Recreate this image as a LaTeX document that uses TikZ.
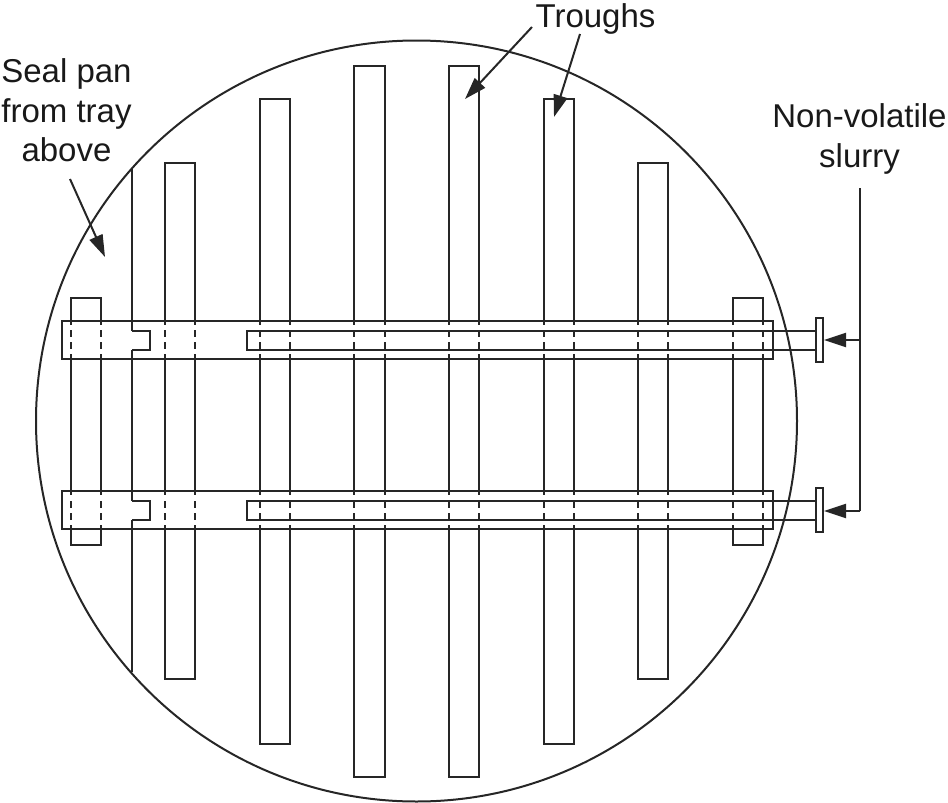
\documentclass[tikz,border=0pt]{standalone}
\usepackage{fontspec}
\setmainfont{Liberation Sans}
\usetikzlibrary{arrows.meta}
\tikzset{
  lbl/.style={font=\fontsize{33}{39.5}\selectfont, align=center, inner sep=0pt, text=black!90, anchor=base},
  ln/.style={draw=black!85, line width=2pt},
  arr/.style={ln, -{Triangle[length=22pt,width=14pt]}, shorten >=0pt},
}
\newcommand{\trough}[4]{%
  \foreach \xx in {#1,#2}{\bandline{\xx}{#3}{#4}}
  \draw[ln] (#1-1,#3) -- (#2+1,#3);
  \draw[ln] (#1-1,#4) -- (#2+1,#4);
}
\newcommand{\bandline}[3]{%
  \draw[ln] (#1,#2) -- (#1,325);
  \draw[ln] (#1,330) -- (#1,337);
  \draw[ln] (#1,342) -- (#1,349);
  \draw[ln] (#1,354) -- (#1,495);
  \draw[ln] (#1,501) -- (#1,508);
  \draw[ln] (#1,513) -- (#1,520);
  \draw[ln] (#1,525) -- (#1,#3);
}
\newcommand{\feedpipe}[1]{%
  \pgfmathsetmacro{\ya}{#1}%
  \draw[ln] (62,\ya) rectangle (773,\ya+38);
  \draw[ln] (816,\ya+9.5) -- (247,\ya+9.5) -- (247,\ya+28.5) -- (816,\ya+28.5);
  \draw[ln] (132,\ya+9.5) -- (150,\ya+9.5) -- (150,\ya+28.5) -- (132,\ya+28.5);
  \draw[ln] (816,\ya-3) rectangle (823,\ya+41);
}
\begin{document}
\begin{tikzpicture}[x=1pt,y=-1pt]
\useasboundingbox (0,0) rectangle (948,803);
\draw[ln] (416.5,421) circle (380.5);
\trough{71}{101}{298}{545}
\trough{165}{195}{163}{679}
\trough{260}{290}{99}{744}
\trough{354}{385}{66}{777}
\trough{449}{479}{66}{777}
\trough{544}{574}{99}{744}
\trough{638}{668}{163}{679}
\trough{733}{763}{298}{545}
\feedpipe{321}
\feedpipe{491}
% seal pan edge
\draw[ln] (132,168) -- (132,330.5);
\draw[ln] (132,349.5) -- (132,500.5);
\draw[ln] (132,519.5) -- (132,672);
% labels
\node[lbl] (troughs) at (595.5,27.5) {Troughs};
\node[lbl] (seal1) at (66.5,82) {Seal pan};
\node[lbl] (seal2) at (66.5,122) {from tray};
\node[lbl] (seal3) at (66.5,161) {above};
\node[lbl] (slurry1) at (859.5,127) {Non-volatile};
\node[lbl] (slurry2) at (859.5,167) {slurry};
\coordinate (t1a) at (532,27);
\coordinate (t1) at (465,99);
\coordinate (t2a) at (580,34);
\coordinate (t2) at (554,117);
\coordinate (s1a) at (70,179);
\coordinate (s1) at (105,257);
\coordinate (a1) at (824,340);
\coordinate (a2) at (824,511);
\coordinate (j1) at (860,340);
\coordinate (j2) at (860,511);
\coordinate (j) at (860,188);
\draw[arr] (t1a) -- (t1);
\draw[arr] (t2a) -- (t2);
\draw[arr] (s1a) -- (s1);
\draw[ln] (j) -- (j2);
\draw[arr] (j1) -- (a1);
\draw[arr] (j2) -- (a2);
\end{tikzpicture}
\end{document}
